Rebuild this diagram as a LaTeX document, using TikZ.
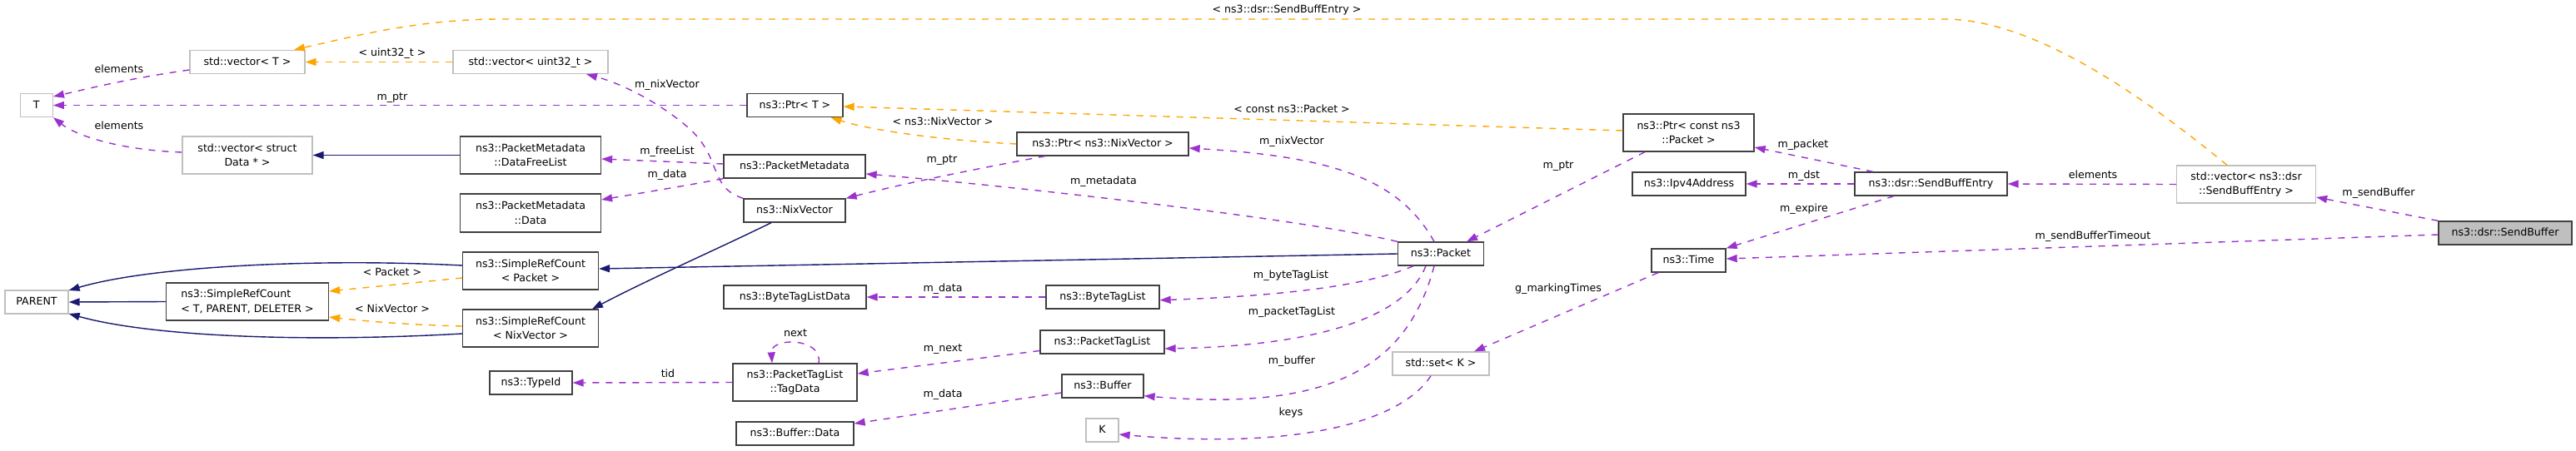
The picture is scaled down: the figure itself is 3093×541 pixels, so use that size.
\documentclass[tikz,border=0pt]{standalone}
\usepackage{fontspec}
\setmainfont{DejaVu Sans}
\usetikzlibrary{arrows.meta}
\definecolor{memc}{HTML}{9A32CD}
\definecolor{tplc}{HTML}{FFA500}
\definecolor{inhc}{HTML}{191970}
\definecolor{grayb}{HTML}{BFBFBF}
\definecolor{darkb}{HTML}{404040}
\begin{document}
\begin{tikzpicture}[x=1pt,y=-1pt,
  font=\fontsize{12.6}{17.5}\selectfont,
  box/.style={draw=darkb, line width=1.3pt, fill=white, inner sep=0pt, align=center, minimum height=28pt},
  gbox/.style={box, draw=grayb},
  one/.style={text height=9.6pt, text depth=2.6pt},
  lab/.style={inner sep=0pt, text height=9.4pt, text depth=2.6pt},
  tipa/.style={-{Triangle[length=13pt,width=9pt]}},
  mem/.style={tipa, draw=memc, line width=1.4pt, dash pattern=on 8pt off 8pt},
  tpl/.style={tipa, draw=tplc, line width=1.4pt, dash pattern=on 8pt off 8pt},
  inh/.style={tipa, draw=inhc, line width=1.4pt}
]
\fill[white] (0,0) rectangle (3093,541);
\useasboundingbox (0,0) rectangle (3093,541);

% nodes
\node[gbox,one,minimum width=39pt] (T) at (43.8,126.5) {T};
\node[gbox,one,minimum width=138pt] (vecT) at (297,74.5) {std::vector< T >};
\node[gbox,minimum width=156pt,minimum height=45pt] (vecData) at (297,186.5) {std::vector< struct\\Data * >};
\node[gbox,one,minimum width=76pt] (PARENT) at (44,363) {PARENT};
\node[box,align=left,minimum width=195pt,minimum height=45pt] (SRCT) at (297,362.5) {ns3::SimpleRefCount\\< T, PARENT, DELETER >};
\node[gbox,one,minimum width=186pt] (vecU32) at (637,74.5) {std::vector< uint32\_t >};
\node[box,one,minimum width=115pt] (PtrT) at (954.5,126.5) {ns3::Ptr< T >};
\node[box,minimum width=169pt,minimum height=45pt] (DFL) at (637,186.5) {ns3::PacketMetadata\\::DataFreeList};
\node[box,one,minimum width=170pt] (PMD) at (954,200) {ns3::PacketMetadata};
\node[box,minimum width=169pt,minimum height=46pt] (PMData) at (637,256) {ns3::PacketMetadata\\::Data};
\node[box,one,minimum width=122pt] (NixV) at (954,253) {ns3::NixVector};
\node[box,minimum width=163pt,minimum height=45pt] (SRCP) at (637,325.5) {ns3::SimpleRefCount\\< Packet >};
\node[box,minimum width=163pt,minimum height=45pt] (SRCN) at (637,394.5) {ns3::SimpleRefCount\\< NixVector >};
\node[box,one,minimum width=171pt] (BTLD) at (954.5,357) {ns3::ByteTagListData};
\node[box,minimum width=149pt,minimum height=45pt] (TagData) at (954.5,459.5) {ns3::PacketTagList\\::TagData};
\node[box,one,minimum width=99pt] (TypeId) at (637.5,460) {ns3::TypeId};
\node[box,one,minimum width=141pt] (BufData) at (954.5,521) {ns3::Buffer::Data};
\node[box,one,minimum width=206pt] (PtrNix) at (1324,173) {ns3::Ptr< ns3::NixVector >};
\node[box,one,minimum width=136pt] (BTL) at (1324,357) {ns3::ByteTagList};
\node[box,one,minimum width=149pt] (PTL) at (1323.5,411) {ns3::PacketTagList};
\node[box,one,minimum width=98pt] (Buf) at (1324,464) {ns3::Buffer};
\node[gbox,one,minimum width=39pt] (K) at (1323.5,517) {K};
\node[box,one,minimum width=103pt] (Packet) at (1730,305) {ns3::Packet};
\node[gbox,one,minimum width=116pt] (SetK) at (1730,437) {std::set< K >};
\node[box,minimum width=157pt,minimum height=45pt] (PtrCP) at (2027.5,159.5) {ns3::Ptr< const ns3\\::Packet >};
\node[box,one,minimum width=136pt] (Ipv4) at (2028,221) {ns3::Ipv4Address};
\node[box,one,minimum width=89pt] (Time) at (2027.5,313) {ns3::Time};
\node[box,one,minimum width=183pt] (SBE) at (2318.5,221) {ns3::dsr::SendBuffEntry};
\node[gbox,minimum width=167pt,minimum height=45pt] (vecSBE) at (2697,221.5) {std::vector< ns3::dsr\\::SendBuffEntry >};
\node[box,one,fill=grayb,minimum width=160pt] (SB) at (3008,280) {ns3::dsr::SendBuffer};

% edges
\draw[mem] ([yshift=-9.5pt]vecT.west) .. controls (150,95) and (100,108) .. ([yshift=10.5pt]T.east);
\node[lab] (l1) at (143,84) {elements};
\draw[mem] ([yshift=3.5pt]vecData.west) .. controls (140,180) and (90,162) .. (T.south east);
\node[lab] (l2) at (143,152) {elements};
\draw[mem] (PtrT.west) -- (T.east);
\node[lab] (l3) at (471,117) {m\_ptr};
\draw[tpl] (vecU32.west) -- (vecT.east);
\node[lab] (l4) at (471,64) {< uint32\_t >};
\draw[tpl] ([xshift=-23pt]vecSBE.north) .. controls (2590,130) and (2450,23) .. (2335,23) -- (600,23) .. controls (500,23) and (420,45) .. ([xshift=56pt]vecT.north);
\node[lab] (l5) at (1545,12) {< ns3::dsr::SendBuffEntry >};
\draw[inh] (SRCT.west) -- (PARENT.east);
\draw[inh] ([yshift=6.5pt]SRCP.west) .. controls (380,310) and (180,320) .. ([yshift=14pt]PARENT.east);
\draw[inh] ([yshift=-6.5pt]SRCN.west) .. controls (360,412) and (180,404) .. ([yshift=-14pt]PARENT.east);
\draw[tpl] ([yshift=-8.5pt]SRCP.west) -- ([yshift=12.5pt]SRCT.east);
\node[lab] (l9) at (471,328) {< Packet >};
\draw[tpl] ([yshift=2.5pt]SRCN.west) .. controls (480,390) and (430,385) .. ([yshift=-18.5pt]SRCT.east);
\node[lab] (l10) at (471,372) {< NixVector >};
\draw[inh] (DFL.west) -- (vecData.east);
\draw[mem] ([yshift=3pt]PMD.west) -- ([yshift=-4.5pt]DFL.east);
\node[lab] (l12) at (801,182) {m\_freeList};
\draw[mem] (PMD.south west) .. controls (830,222) and (770,232) .. ([yshift=16pt]PMData.east);
\node[lab] (l13) at (801,210) {m\_data};
\draw[mem] (NixV.north west) .. controls (850,225) and (868,190) .. (826,153) .. controls (790,122) and (745,100) .. ([xshift=67pt]vecU32.south);
\node[lab] (l14) at (801,102) {m\_nixVector};
\draw[tpl] (PtrNix.west) .. controls (1120,168) and (1040,155) .. ([xshift=43pt]PtrT.south);
\node[lab] (l15) at (1132,147) {< ns3::NixVector >};
\draw[tpl] ([yshift=2.5pt]PtrCP.west) -- ([yshift=-1.5pt]PtrT.east);
\node[lab] (l16) at (1551,132) {< const ns3::Packet >};
\draw[mem] ([xshift=-69pt]PtrNix.south) .. controls (1160,205) and (1080,222) .. (NixV.north east);
\node[lab] (l17) at (1131,192) {m\_ptr};
\draw[mem] (Packet.north west) .. controls (1560,262) and (1200,222) .. ([yshift=-9pt]PMD.east);
\node[lab] (l18) at (1325,218) {m\_metadata};
\draw[mem] ([xshift=-8pt]Packet.north) .. controls (1680,215) and (1600,188) .. ([yshift=-5pt]PtrNix.east);
\node[lab] (l19) at (1551,170) {m\_nixVector};
\draw[mem] ([xshift=-33pt]Packet.south) .. controls (1650,340) and (1560,355) .. ([yshift=-3.7pt]BTL.east);
\node[lab] (l20) at (1550,331) {m\_byteTagList};
\draw[mem] ([xshift=-18pt]Packet.south) .. controls (1690,375) and (1600,415) .. ([yshift=-8pt]PTL.east);
\node[lab] (l21) at (1551,375) {m\_packetTagList};
\draw[mem] ([xshift=-8pt]Packet.south) .. controls (1690,440) and (1600,495) .. ([yshift=-11.7pt]Buf.east);
\node[lab] (l22) at (1551,434) {m\_buffer};
\draw[mem] ([xshift=-12pt]SetK.south) .. controls (1680,510) and (1550,540) .. ([yshift=-5pt]K.east);
\node[lab] (l23) at (1550,496) {keys};
\draw[mem] (BTL.west) -- (BTLD.east);
\node[lab] (l24) at (1132,347) {m\_data};
\draw[mem] ([yshift=-10.5pt]PTL.west) -- ([yshift=10.5pt]TagData.east);
\node[lab] (l25) at (1132,419) {m\_next};
\draw[mem] ([yshift=-8pt]Buf.west) -- ([yshift=12pt]BufData.east);
\node[lab] (l26) at (1132,474) {m\_data};
\draw[mem] (TagData.west) -- (TypeId.east);
\node[lab] (l27) at (802,450) {tid};
\draw[mem] ([xshift=28.5pt]TagData.north) .. controls (988,405) and (925,405) .. ([xshift=-27.5pt]TagData.north);
\node[lab] (l28) at (955,401) {next};
\draw[mem] ([xshift=-69.5pt]SBE.north) -- ([yshift=-17.5pt]PtrCP.east);
\node[lab] (l29) at (2165,174) {m\_packet};
\draw[mem] (SBE.west) -- (Ipv4.east);
\node[lab] (l30) at (2166,211) {m\_dst};
\draw[mem] ([xshift=-44.5pt]SBE.south) -- (Time.north east);
\node[lab] (l31) at (2166,251) {m\_expire};
\draw[mem] ([yshift=-2pt]SB.west) -- ([yshift=2pt]Time.east);
\node[lab] (l32) at (2513,284) {m\_sendBufferTimeout};
\draw[mem] (SB.north west) -- ([yshift=-15.5pt]vecSBE.east);
\node[lab] (l33) at (2856,232) {m\_sendBuffer};
\draw[mem] (vecSBE.west) -- (SBE.east);
\node[lab] (l34) at (2513,211) {elements};
\draw[mem] ([xshift=-52.5pt]PtrCP.south) -- ([xshift=31pt]Packet.north);
\node[lab] (l35) at (1871,199) {m\_ptr};
\draw[mem] ([xshift=-36.5pt]Time.south) -- ([xshift=40pt]SetK.north);
\node[lab] (l36) at (1871,347) {g\_markingTimes};
\draw[inh] (Packet.west) -- ([yshift=2.5pt]SRCP.east);
\draw[inh] ([xshift=-28pt]NixV.south) .. controls (860,300) and (780,335) .. ([xshift=74pt]SRCN.north);
\end{tikzpicture}
\end{document}
